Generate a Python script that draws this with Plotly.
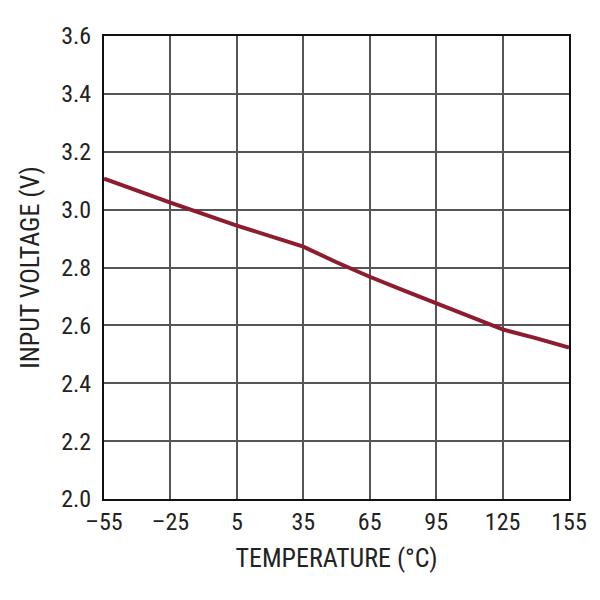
from plotly import graph_objects as go

LINE_COLOUR = "#8C1C2E"

# Data
temperature = [-55, -25, 5, 35, 50, 65, 80, 95, 110, 125, 140, 155]
input_voltage = [3.107, 3.024, 2.945, 2.872, 2.818, 2.768, 2.722, 2.677, 2.630, 2.586, 2.556, 2.523]

x_ticks = [-55, -25, 5, 35, 65, 95, 125, 155]
x_tick_labels = ["–55", "–25", "5", "35", "65", "95", "125", "155"]
y_ticks = [2.0, 2.2, 2.4, 2.6, 2.8, 3.0, 3.2, 3.4, 3.6]
y_tick_labels = ["2.0", "2.2", "2.4", "2.6", "2.8", "3.0", "3.2", "3.4", "3.6"]

FONT = "Liberation Sans Narrow, Arial Narrow, Roboto Condensed, Liberation Sans, sans-serif"

# Create figure
fig = go.Figure()

fig.add_trace(
    go.Scatter(
        x=temperature,
        y=input_voltage,
        mode="lines",
        line={"color": LINE_COLOUR, "width": 4},
        hoverinfo="skip",
    )
)

# Update figure layout (page body adds an 8px offset)
fig.update_layout(
    autosize=False,
    width=600,
    height=600,
    margin={"l": 96, "r": 39, "t": 28, "b": 109},
    paper_bgcolor="white",
    plot_bgcolor="white",
    showlegend=False,
    font={"family": FONT, "size": 24, "color": "#222222"},
    xaxis={
        "range": [-55, 155],
        "tickvals": x_ticks,
        "ticktext": x_tick_labels,
        "showgrid": True,
        "gridcolor": "#555555",
        "gridwidth": 1.5,
        "showline": True,
        "linecolor": "#111111",
        "linewidth": 2,
        "mirror": True,
        "zeroline": False,
        "ticks": "",
        "title": {"text": "TEMPERATURE (°C)", "standoff": 14, "font": {"size": 26}},
    },
    yaxis={
        "range": [2.0, 3.6],
        "tickvals": y_ticks,
        "ticktext": y_tick_labels,
        "showgrid": True,
        "gridcolor": "#555555",
        "gridwidth": 1.5,
        "showline": True,
        "linecolor": "#111111",
        "linewidth": 2,
        "mirror": True,
        "zeroline": False,
        "ticks": "",
        "ticklabelstandoff": 6,
        "title": {"text": "INPUT VOLTAGE (V)", "standoff": 14, "font": {"size": 26}},
    },
)

fig.write_html("out.html")
